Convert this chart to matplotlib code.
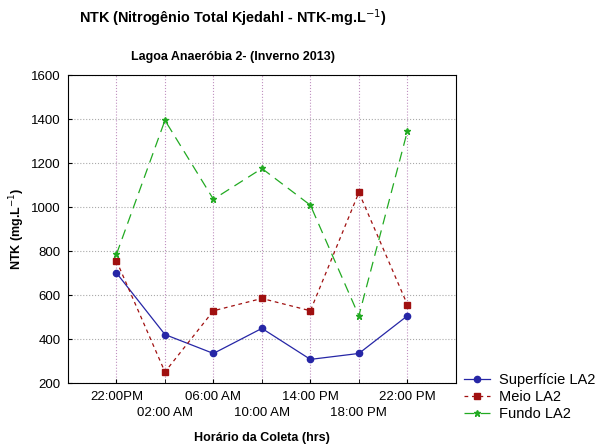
import matplotlib
matplotlib.use('Agg')
from matplotlib import pyplot as plt

plt.rcParams['font.family'] = ['Liberation Sans', 'DejaVu Sans']

horarios = ['22:00PM', '02:00 AM', '06:00 AM', '10:00 AM', '14:00 PM', '18:00 PM', '22:00 PM']
superficie = [701, 421, 335, 449, 308, 335, 506]
meio = [756, 251, 529, 585, 529, 1067, 557]
fundo = [786, 1395, 1036, 1176, 1009, 506, 1345]

fig = plt.figure(figsize=(5.99, 4.45), dpi=100)
ax = fig.add_axes([0.1135, 0.139, 0.6475, 0.692])

x = list(range(len(horarios)))
ax.plot(x, superficie, color='#2626a6', linestyle='-', linewidth=0.9,
        marker='o', markersize=4.5, label='Superfície LA2')
ax.plot(x, meio, color='#a01010', linestyle=(0, (3, 3)), linewidth=0.9,
        marker='s', markersize=4.5, label='Meio LA2')
ax.plot(x, fundo, color='#22aa22', linestyle=(0, (8, 5)), linewidth=0.9,
        marker='*', markersize=5, label='Fundo LA2')

ax.set_xlim(-1, 7)
ax.set_ylim(200, 1600)
ax.set_yticks(range(200, 1601, 200))
# staggered labels: even ones on the first row (major), odd ones below (minor)
ax.set_xticks(x[::2])
ax.set_xticklabels(horarios[::2])
ax.set_xticks(x[1::2], minor=True)
ax.set_xticklabels(horarios[1::2], minor=True)
ax.tick_params(axis='both', which='both', labelsize=9.5, direction='in', length=3)
ax.tick_params(axis='x', which='major', pad=6)
ax.tick_params(axis='x', which='minor', pad=17.5)
ax.tick_params(axis='y', pad=5.5)
ax.grid(True, axis='y', linestyle=':', color='#aaaaaa', linewidth=0.8)
ax.grid(True, axis='x', which='both', linestyle=':', color='#c090c0', linewidth=0.8)

ax.set_ylabel('NTK (mg.L$^{-1}$)', fontsize=9, fontweight='bold', labelpad=3)
ax.set_xlabel('Horário da Coleta (hrs)', fontsize=9, fontweight='bold', labelpad=9)

fig.text(0.389, 0.958, 'NTK (Nitrogênio Total Kjedahl - NTK-mg.L$^{-1}$)',
         ha='center', va='center', fontsize=10.4, fontweight='bold')
fig.text(0.389, 0.872, 'Lagoa Anaeróbia 2- (Inverno 2013)',
         ha='center', va='center', fontsize=9, fontweight='bold')

fig.legend(loc='lower left', bbox_to_anchor=(0.775, 0.054), frameon=False,
           fontsize=10.5, handlelength=1.8, handletextpad=0.6, labelspacing=0.2,
           borderaxespad=0, borderpad=0)

fig.savefig('out.png', dpi=100)
